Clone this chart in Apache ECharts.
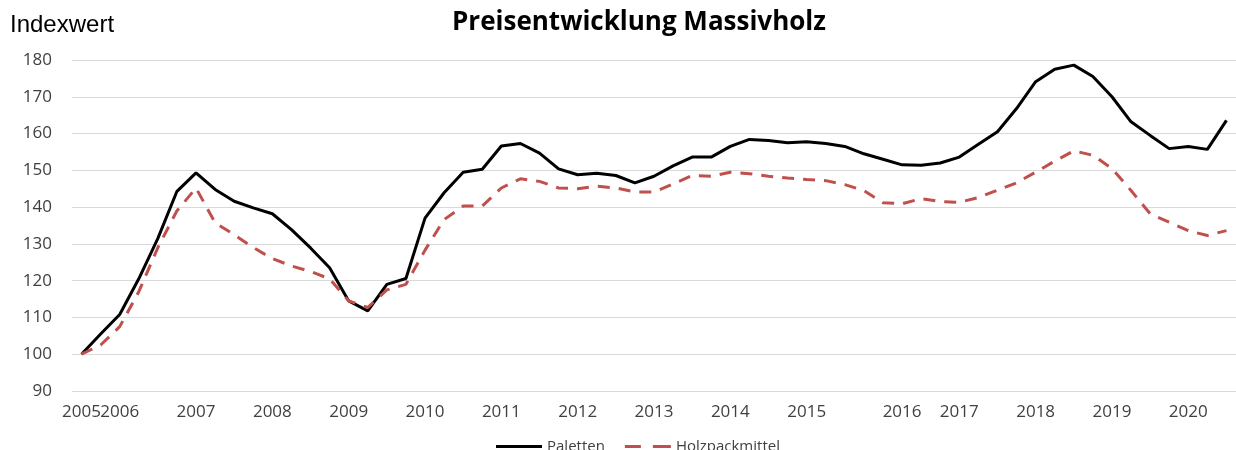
<!DOCTYPE html>
<html>
<head>
<meta charset="utf-8">
<script src="https://cdn.jsdelivr.net/npm/echarts@6/dist/echarts.min.js"></script>
<style>
html,body{margin:0;padding:0;background:#fff;}
#c{width:1236px;height:450px;}
</style>
</head>
<body>
<div id="c"></div>
<script>
// quarterly points, 2005 Q1 .. 2020 Q1
const labelPositions = [0, 2, 6, 10, 14, 18, 22, 26, 30, 34, 38, 43, 46, 50, 54, 58];
const labelTexts = ['2005','2006','2007','2008','2009','2010','2011','2012','2013','2014','2015','2016','2017','2018','2019','2020'];
const pointCount = 61;

const paletten = [
  100, 105.5, 110.8, 120.5, 131.5, 144.3, 149.3, 144.8, 141.6, 139.8,
  138.2, 133.9, 128.9, 123.5, 114.5, 111.8, 119, 120.6, 137, 143.9,
  149.5, 150.3, 156.6, 157.3, 154.7, 150.4, 148.8, 149.2, 148.6, 146.6,
  148.4, 151.2, 153.6, 153.6, 156.5, 158.4, 158.1, 157.5, 157.8, 157.3,
  156.5, 154.5, 153, 151.5, 151.4, 152, 153.6, 157.1, 160.5, 166.8,
  174.1, 177.5, 178.6, 175.5, 170, 163.2, 159.5, 155.9, 156.5, 155.7,
  163.6
];
const holzpackmittel = [
  100, 102.5, 107.5, 117, 129, 139, 145.2, 135.7, 132.5, 129,
  126, 124, 122.5, 120.5, 114.5, 112.7, 117.5, 119, 128.3, 136.6,
  140.3, 140.3, 145.2, 147.7, 147, 145.2, 145, 145.7, 145.2, 144.1,
  144.1, 146.3, 148.6, 148.4, 149.5, 149.1, 148.4, 147.9, 147.5, 147.2,
  146.1, 144.5, 141.2, 140.9, 142.3, 141.5, 141.3, 142.6, 144.6, 146.6,
  149.5, 152.5, 155.3, 154.1, 150.5, 144.5, 138.2, 135.9, 133.6, 132.3,
  133.6
];

const categories = [];
for (let i = 0; i < pointCount; i++) categories.push('');
labelPositions.forEach((p, k) => { categories[p] = labelTexts[k]; });

const chart = echarts.init(document.getElementById('c'));
chart.setOption({
  animation: false,
  backgroundColor: '#ffffff',
  title: [
    {
      text: 'Preisentwicklung Massivholz',
      left: 634, top: 5, textAlign: 'center',
      textStyle: {fontFamily: 'Open Sans', fontWeight: 'bold', fontSize: 26, color: '#000'}
    },
    {
      text: 'Indexwert',
      left: 5, top: 8,
      textStyle: {fontFamily: 'Liberation Sans', fontWeight: 'normal', fontSize: 24, color: '#000'}
    }
  ],
  legend: {
    bottom: -9,
    left: 491,
    itemWidth: 46,
    itemHeight: 3,
    itemGap: 20,
    textStyle: {fontFamily: 'Open Sans', fontSize: 15, color: '#404040'},
    data: [
      {name: 'Paletten', icon: 'path://M0,0h46v3h-46z', itemStyle: {color: '#000'}},
      {name: 'Holzpackmittel', icon: 'path://M0,0h16v3h-16z M28,0h18v3h-18z', itemStyle: {color: '#c0504d'}}
    ]
  },
  grid: {left: 72, right: -2, top: 60, bottom: 59, containLabel: false},
  xAxis: {
    type: 'category',
    data: categories,
    boundaryGap: true,
    axisLine: {show: false},
    axisTick: {show: false},
    axisLabel: {
      interval: 0,
      margin: 13,
      fontFamily: 'Open Sans',
      fontSize: 17,
      color: '#404040'
    },
    splitLine: {show: false}
  },
  yAxis: {
    type: 'value',
    min: 90, max: 180, interval: 10,
    axisLine: {show: false},
    axisTick: {show: false},
    axisLabel: {fontFamily: 'Open Sans', fontSize: 17, color: '#404040', margin: 20},
    splitLine: {lineStyle: {color: '#d9d9d9', width: 1}}
  },
  series: [
    {
      name: 'Paletten',
      type: 'line',
      data: paletten,
      symbol: 'none',
      lineStyle: {color: '#000000', width: 3},
      itemStyle: {color: '#000000'}
    },
    {
      name: 'Holzpackmittel',
      type: 'line',
      data: holzpackmittel,
      symbol: 'none',
      lineStyle: {color: '#c0504d', width: 3, type: [12, 9]},
      itemStyle: {color: '#c0504d'}
    }
  ]
});
</script>
</body>
</html>
